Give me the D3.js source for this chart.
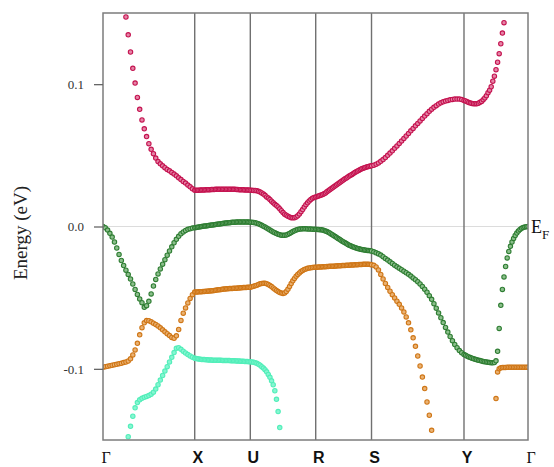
<!DOCTYPE html>
<html>
<head>
<meta charset="utf-8">
<script src="https://cdn.jsdelivr.net/npm/d3@7"></script>
<style>
  html, body { margin: 0; padding: 0; background: #fff; }
  svg { display: block; }
</style>
</head>
<body>
<div id="chart"></div>
<script>
// High-symmetry points along the k-path (fractional path length)
const kLabels = ["Γ", "X", "U", "R", "S", "Y", "Γ"];
const kTicks  = [0, 0.2158, 0.3466, 0.5005, 0.6318, 0.8494, 1.0];
const kPointsPerSegment = 40;

// Energy axis ticks (eV)
const yTickValues = [-0.1, 0.0, 0.1];
const yTickLabels = ["-0.1", "0.0", "0.1"];

// Band energies in meV, one value per k-point; each run starts at the k-index given.
const redStart = 10;
const redMeV = [
  // Γ–X
  147.2, 134.7, 122.6, 111.1, 100.8, 90.7, 82.3, 74.9, 68.6, 63.2, 58.2, 54.2, 51.2, 48.1, 45.6,
  44.0, 42.6, 41.3, 40.1, 39.1, 38.0, 36.8, 35.6, 34.2, 33.0, 31.6, 30.5, 29.1, 27.9, 26.5,
  // X–U
  25.4, 25.4, 25.5, 25.5, 25.6, 25.6, 25.7, 25.7, 25.8, 25.8, 25.9, 25.9, 26.0, 26.0, 26.0, 26.1, 26.1, 26.1, 26.1, 26.2,
  26.2, 26.2, 26.2, 26.2, 26.2, 26.2, 26.2, 26.1, 26.1, 26.1, 26.0, 26.0, 25.9, 25.9, 25.8, 25.8, 25.7, 25.7, 25.6, 25.6,
  // U–R
  25.5, 25.4, 25.3, 25.3, 25.1, 24.7, 24.2, 23.6, 22.8, 21.9, 20.8, 20.0, 18.9, 17.8, 16.6, 15.6, 14.7, 13.7, 12.4, 11.1,
  9.8, 8.6, 7.9, 7.2, 6.6, 6.2, 6.1, 6.2, 6.7, 7.5, 8.8, 10.4, 11.9, 13.7, 15.3, 16.6, 17.9, 18.9, 19.8, 20.4,
  // R–S
  20.7, 21.1, 21.4, 21.8, 22.1, 22.5, 23.0, 23.6, 24.4, 25.1, 25.8, 26.5, 27.2, 27.9, 28.6, 29.3, 30.0, 30.7, 31.4, 32.1,
  32.8, 33.5, 34.1, 34.7, 35.4, 36.0, 36.6, 37.3, 37.9, 38.5, 39.0, 39.6, 40.1, 40.6, 41.0, 41.3, 41.7, 42.0, 42.2, 42.5,
  // S–Y
  42.6, 43.1, 43.8, 44.7, 45.8, 47.0, 48.4, 50.0, 51.6, 53.2, 54.9, 56.6, 58.4, 60.1, 61.9, 63.6, 65.4, 67.2, 68.9, 70.7,
  72.4, 74.2, 75.9, 77.6, 79.3, 80.9, 82.4, 83.7, 84.9, 86.0, 86.9, 87.6, 88.1, 88.6, 89.0, 89.3, 89.5, 89.5, 89.5, 89.2,
  // Y–Γ
  88.6, 88.2, 87.7, 87.2, 86.7, 86.5, 86.3, 86.3, 86.3, 86.6, 87.3, 87.9, 89.1, 90.3, 91.9, 94.0, 95.8, 98.2, 102.1, 105.6,
  110.2, 115.4, 121.4, 128.4, 135.9, 143.2
];

const greenStart = 0;
const greenMeV = [
  // Γ–X
  0.0, -0.9, -2.5, -4.8, -7.4, -10.9, -15.1, -19.6, -23.9, -27.4, -30.7, -33.7, -36.8, -40.4, -44.2, -47.7, -50.9, -53.5, -56.8, -55.6,
  -52.6, -47.4, -41.8, -37.2, -33.3, -29.8, -26.5, -23.3, -20.2, -17.2, -14.3, -11.4, -9.0, -6.9, -5.1, -3.8, -2.8, -2.0, -1.5, -1.1,
  // X–U
  -0.9, -0.7, -0.5, -0.3, -0.1, 0.0, 0.1, 0.3, 0.4, 0.6, 0.7, 0.8, 1.0, 1.1, 1.3, 1.4, 1.5, 1.7, 1.8, 2.0,
  2.1, 2.2, 2.4, 2.5, 2.6, 2.7, 2.8, 2.9, 3.0, 3.0, 3.1, 3.2, 3.2, 3.2, 3.2, 3.2, 3.2, 3.2, 3.2, 3.1,
  // U–R
  3.0, 2.9, 2.8, 2.6, 2.3, 1.9, 1.4, 0.8, 0.2, -0.4, -1.1, -1.8, -2.5, -3.2, -3.8, -4.4, -5.0, -5.5, -5.8, -6.1,
  -6.2, -6.2, -5.9, -5.5, -4.9, -4.3, -3.6, -3.0, -2.5, -2.1, -1.8, -1.7, -1.6, -1.6, -1.6, -1.7, -1.8, -1.8, -1.9, -2.0,
  // R–S
  -2.0, -2.1, -2.1, -2.2, -2.3, -2.5, -2.8, -3.2, -3.6, -4.1, -4.6, -5.2, -5.8, -6.5, -7.1, -7.7, -8.4, -9.0, -9.6, -10.3,
  -10.9, -11.5, -12.0, -12.6, -13.1, -13.6, -14.0, -14.4, -14.7, -15.1, -15.4, -15.6, -15.9, -16.1, -16.3, -16.5, -16.6, -16.8, -16.9, -17.1,
  // S–Y
  -17.2, -17.8, -18.5, -19.2, -20.1, -21.2, -22.4, -23.6, -24.8, -26.0, -27.2, -28.3, -29.3, -30.4, -31.4, -32.5, -33.6, -34.8, -36.1, -37.4,
  -38.8, -40.4, -42.1, -44.1, -46.2, -48.6, -51.2, -54.2, -57.4, -60.7, -64.1, -67.5, -70.9, -74.2, -77.3, -80.2, -82.9, -85.2, -87.2, -88.7,
  // Y–Γ
  -90.0, -90.5, -91.1, -91.6, -92.1, -92.5, -92.9, -93.3, -93.6, -94.0, -94.2, -94.5, -94.8, -95.0, -95.2, -95.4, -95.6, -95.7, -95.8, -95.6,
  -94.4, -87.7, -71.6, -55.4, -44.2, -35.4, -28.1, -22.1, -17.5, -13.9, -10.9, -8.4, -6.3, -4.6, -3.2, -2.1, -1.3, -0.7, -0.4, -0.1,
  0.0
];

const orangeStart = 0;
const orangeMeV = [
  // Γ–X
  -98.8, -98.5, -98.2, -97.8, -97.5, -97.1, -96.8, -96.4, -96.1, -95.6, -95.2, -94.5, -93.0, -90.2, -86.7, -82.1, -76.1, -71.1, -67.7, -66.1,
  -66.2, -67.0, -67.9, -68.8, -69.9, -71.2, -72.6, -74.0, -75.3, -76.6, -77.9, -78.5, -76.8, -72.3, -66.0, -60.9, -57.2, -53.7, -50.5, -47.9,
  // X–U
  -46.1, -46.0, -46.0, -45.9, -45.8, -45.8, -45.7, -45.6, -45.5, -45.5, -45.3, -45.3, -45.1, -45.1, -44.9, -44.8, -44.6, -44.5, -44.4, -44.2,
  -44.1, -43.9, -43.9, -43.8, -43.7, -43.6, -43.6, -43.5, -43.4, -43.4, -43.3, -43.2, -43.2, -43.1, -43.0, -42.9, -42.9, -42.8, -42.7, -42.7,
  // U–R
  -42.6, -42.3, -42.0, -41.6, -41.2, -40.7, -40.3, -40.0, -39.9, -39.9, -40.2, -40.7, -41.4, -42.2, -43.2, -44.1, -44.9, -45.7, -46.3, -46.8,
  -47.0, -46.7, -45.6, -44.0, -42.1, -40.1, -38.2, -36.5, -34.9, -33.7, -32.6, -31.6, -30.9, -30.2, -29.8, -29.4, -29.1, -28.9, -28.8, -28.7,
  // R–S
  -28.6, -28.6, -28.5, -28.4, -28.4, -28.3, -28.3, -28.2, -28.1, -28.1, -28.0, -27.9, -27.9, -27.9, -27.8, -27.7, -27.6, -27.6, -27.5, -27.4,
  -27.4, -27.4, -27.3, -27.2, -27.2, -27.1, -27.0, -27.0, -26.9, -26.9, -26.8, -26.7, -26.7, -26.7, -26.6, -26.6, -26.5, -26.5, -26.6, -26.7,
  // S–Y (leaves the window below)
  -26.8, -27.3, -28.4, -30.5, -33.7, -36.8, -40.0, -42.8, -45.5, -47.9, -50.2, -52.5, -54.7, -57.2, -60.0, -63.5, -67.7, -72.6, -78.2, -84.2,
  -91.0, -98.0, -105.8, -113.9, -123.3, -132.6, -143.2
];
// Second visible run of the same band, near the end of Y–Γ
const orangeTailStart = 220;
const orangeTailMeV = [
  -120.9, -102.2, -99.9, -99.3, -99.1, -99.0, -99.0, -98.9, -98.9, -98.9, -98.8,
  -98.8, -98.8, -98.8, -98.8, -98.8, -98.8, -98.8, -98.8, -98.8, -98.8
];

const aquaStart = 11;
const aquaMeV = [
  // Γ–X
  -147.7, -140.4, -133.3, -127.4, -123.7, -121.8, -120.7, -120.0, -119.4, -118.8, -117.8, -116.4, -114.2, -111.2, -107.9,
  -104.7, -101.6, -98.5, -95.2, -91.9, -88.6, -85.6, -85.1, -86.3, -87.6, -88.8, -90.0, -91.0, -91.8,
  // X–U
  -92.6, -92.8, -93.0, -93.1, -93.3, -93.4, -93.5, -93.5, -93.6, -93.7, -93.8, -93.8, -93.8, -93.9, -93.9, -94.0, -94.0, -94.0, -94.0, -94.0,
  -94.1, -94.1, -94.2, -94.2, -94.2, -94.2, -94.3, -94.3, -94.4, -94.4, -94.5, -94.5, -94.5, -94.6, -94.7, -94.7, -94.8, -94.9, -94.9, -95.0,
  // U–R (leaves the window below)
  -95.1, -95.2, -95.4, -95.7, -96.1, -96.8, -97.5, -98.5, -99.5, -100.7, -102.1, -103.9, -106.0, -108.4, -111.2, -115.4, -121.4, -130.0, -141.3
];

const bandColors = {
  aqua:   { stroke: "#52eeb9", fill: "#86f6d2" },
  orange: { stroke: "#cf7616", fill: "#eab273" },
  green:  { stroke: "#2e7d32", fill: "#8cbf8c" },
  red:    { stroke: "#c4124f", fill: "#e584a6" }
};

const bandRuns = [
  { key: "aqua",   start: aquaStart,       meV: aquaMeV },
  { key: "orange", start: orangeStart,     meV: orangeMeV },
  { key: "orange", start: orangeTailStart, meV: orangeTailMeV },
  { key: "green",  start: greenStart,      meV: greenMeV },
  { key: "red",    start: redStart,        meV: redMeV }
];

// k-coordinate of the i-th point on the path
function kOf(i) {
  const seg = Math.min(Math.floor(i / kPointsPerSegment), kTicks.length - 2);
  const t = (i - seg * kPointsPerSegment) / kPointsPerSegment;
  return kTicks[seg] + t * (kTicks[seg + 1] - kTicks[seg]);
}

const W = 554, H = 467;
const margin = { left: 103, top: 13, right: 26, bottom: 27 };
const plotW = W - margin.left - margin.right;
const plotH = H - margin.top - margin.bottom;

const x = d3.scaleLinear().domain([0, 1]).range([0, plotW]);
const y = d3.scaleLinear().domain([-0.15, 0.15]).range([plotH, 0]);

const svg = d3.select("#chart").append("svg")
  .attr("width", W).attr("height", H);

svg.append("defs").append("clipPath").attr("id", "plot-clip")
  .append("rect").attr("width", plotW).attr("height", plotH);

const g = svg.append("g").attr("transform", `translate(${margin.left},${margin.top})`);

// Fermi level
g.append("line")
  .attr("x1", 0).attr("x2", plotW)
  .attr("y1", y(0)).attr("y2", y(0))
  .attr("stroke", "#dcdcdc").attr("stroke-width", 1.2);

// High-symmetry vertical lines
g.selectAll("line.kline")
  .data(kTicks.slice(1, -1))
  .join("line")
  .attr("class", "kline")
  .attr("x1", d => x(d)).attr("x2", d => x(d))
  .attr("y1", 0).attr("y2", plotH)
  .attr("stroke", "#707070").attr("stroke-width", 1.4);

// Band points
const dots = g.append("g").attr("clip-path", "url(#plot-clip)");
bandRuns.forEach(run => {
  const pts = run.meV.map((e, j) => ({ k: kOf(run.start + j), e: e / 1000 }))
    .filter(p => p.e >= -0.155 && p.e <= 0.155);
  const c = bandColors[run.key];
  dots.append("g")
    .selectAll("circle")
    .data(pts)
    .join("circle")
    .attr("cx", p => x(p.k))
    .attr("cy", p => y(p.e))
    .attr("r", 2.2)
    .attr("fill", c.fill)
    .attr("stroke", c.stroke)
    .attr("stroke-width", 1.1);
});

// Frame
g.append("rect")
  .attr("width", plotW).attr("height", plotH)
  .attr("fill", "none").attr("stroke", "#7c7c7c").attr("stroke-width", 1.5);

// Y axis
const yAxis = d3.axisLeft(y)
  .tickValues(yTickValues)
  .tickFormat((d, i) => yTickLabels[i])
  .tickSize(9)
  .tickPadding(10);
const ya = g.append("g").call(yAxis);
ya.select(".domain").remove();
ya.selectAll(".tick line").attr("stroke", "#666").attr("stroke-width", 1.3);
ya.selectAll(".tick text")
  .attr("font-family", "'Liberation Serif', 'DejaVu Serif', serif")
  .attr("font-size", 13)
  .attr("fill", "#333");

// Y axis title
svg.append("text")
  .attr("transform", "translate(27,233) rotate(-90)")
  .attr("text-anchor", "middle")
  .attr("font-family", "'Liberation Serif', 'DejaVu Serif', serif")
  .attr("font-size", 19)
  .attr("fill", "#222")
  .text("Energy (eV)");

// k-point labels
svg.append("g").selectAll("text")
  .data(kTicks.map((k, i) => ({ k, label: kLabels[i] })))
  .join("text")
  .attr("x", d => margin.left + x(d.k) + 3)
  .attr("y", 463)
  .attr("text-anchor", "middle")
  .attr("font-family", d => d.label === "Γ" ? "'Liberation Serif', serif" : "'Liberation Sans', Arial, sans-serif")
  .attr("font-weight", d => d.label === "Γ" ? "normal" : "bold")
  .attr("font-size", 16)
  .attr("fill", "#111")
  .text(d => d.label);

// Fermi level label
const ef = svg.append("text")
  .attr("x", margin.left + plotW + 3)
  .attr("y", margin.top + y(0) + 6.5)
  .attr("font-family", "'Liberation Serif', 'DejaVu Serif', serif")
  .attr("font-size", 18)
  .attr("fill", "#111");
ef.append("tspan").text("E");
ef.append("tspan").attr("font-size", 13).attr("dy", 6).text("F");
</script>
</body>
</html>
